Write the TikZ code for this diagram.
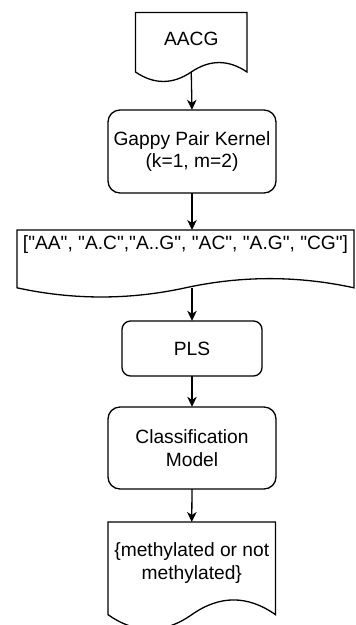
\documentclass[tikz,border=0pt]{standalone}
\usepackage{fontspec}
\setmainfont{Liberation Sans}[Ligatures=TeXOff]
\usetikzlibrary{arrows.meta}
\begin{document}
\begin{tikzpicture}[x=1pt,y=-1pt,
  shapeline/.style={draw=black,line width=1.3pt},
  lbl/.style={font=\fontsize{19.2}{22.5}\selectfont,align=center,inner sep=0pt},
  arr/.style={line width=1.3pt,-{Stealth[length=10pt,width=9.5pt,inset=3pt]}}]
\useasboundingbox (0,0) rectangle (356,625);
\newcommand\docpath[4]{\draw[shapeline,shift={(#1,#2)},xscale=#3,yscale=#4]
  (0,0) -- (1,0) -- (1,0.85) .. controls (0.8333,0.67) and (0.6667,0.67) .. (0.5,0.85)
  .. controls (0.3333,1.03) and (0.1667,1.03) .. (0,0.85) -- cycle;}
% document 1
\docpath{135.5}{12.5}{111.5}{70}
\node[lbl] (aacg) at (191.25,39) {AACG};
\coordinate (aacgb) at (191.25,72);
% gappy pair kernel
\draw[shapeline,rounded corners=12pt] (108,110) rectangle (276,193);
\node[lbl,minimum width=168pt,minimum height=83pt] (gappy) at (192,151.5) {Gappy Pair Kernel\\(k=1, m=2)};
% list document
\docpath{17}{230}{337}{68}
\node[lbl] (list) at (185.5,245) {["AA", "A.C","A..G", "AC", "A.G", "CG"]};
\coordinate (listb) at (192,288);
% PLS
\draw[shapeline,rounded corners=8.5pt] (122,321) rectangle (262,376);
\node[lbl,minimum width=140pt,minimum height=55pt] (pls) at (192,348.5) {PLS};
% classification
\draw[shapeline,rounded corners=12pt] (108,407) rectangle (276,489);
\node[lbl,minimum width=168pt,minimum height=82pt] (cls) at (192,448) {Classification\\Model};
% output document
\docpath{108}{522}{167.5}{109}
\node[lbl] (out) at (191.75,563) {\{methylated or not\\methylated\}};
\coordinate (outtop) at (191.75,522);
% connectors
\draw[arr] (aacgb) -- (gappy.north);
\draw[arr] (gappy.south) -- (192,230);
\draw[arr] (listb) -- (pls.north);
\draw[arr] (pls.south) -- (cls.north);
\draw[arr] (cls.south) -- (outtop);
\end{tikzpicture}
\end{document}
